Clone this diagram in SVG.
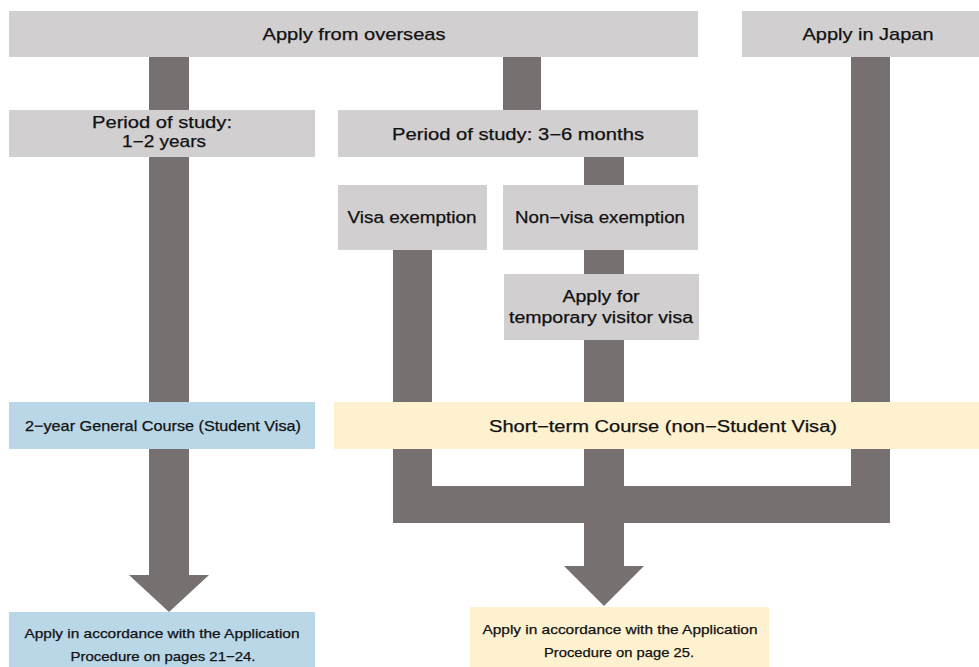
<svg xmlns="http://www.w3.org/2000/svg" width="979" height="667" viewBox="0 0 979 667">
<style>
.bar{fill:#767070}
.gray{fill:#d1cfd0}
.blue{fill:#b9d7e7}
.yellow{fill:#fef1cf}
text{font-family:"Liberation Sans","DejaVu Sans",sans-serif;fill:#111;stroke:#111;stroke-width:0.25;text-anchor:middle}
.t16{font-size:16px}
.t17{font-size:17px}
.t15{font-size:15px}
.t13{font-size:13px}
</style>
<rect width="979" height="667" fill="#ffffff"/>
<g id="connectors">
<rect class="bar" x="149" y="57" width="40" height="520"/>
<polygon class="bar" points="129,575 209,575 169,612"/>
<rect class="bar" x="503" y="57" width="38" height="53"/>
<rect class="bar" x="584" y="157" width="40" height="410"/>
<polygon class="bar" points="564,566 644,566 604,606"/>
<rect class="bar" x="393" y="250" width="39" height="273"/>
<rect class="bar" x="851" y="57" width="39" height="466"/>
<rect class="bar" x="393" y="486" width="497" height="37"/>
</g>
<g id="node-overseas">
<rect class="gray" x="9" y="11" width="689" height="46"/>
<text class="t17" x="354" y="40" textLength="183" lengthAdjust="spacingAndGlyphs">Apply from overseas</text>
</g>
<g id="node-japan">
<rect class="gray" x="742" y="11" width="237" height="46"/>
<text class="t17" x="868" y="40" textLength="131" lengthAdjust="spacingAndGlyphs">Apply in Japan</text>
</g>
<g id="node-period12">
<rect class="gray" x="9" y="110" width="306" height="47"/>
<text class="t16" x="162" y="128" textLength="140" lengthAdjust="spacingAndGlyphs">Period of study:</text>
<text class="t16" x="164" y="147" textLength="84" lengthAdjust="spacingAndGlyphs">1−2 years</text>
</g>
<g id="node-period36">
<rect class="gray" x="338" y="110" width="360" height="47"/>
<text class="t16" x="518" y="140" textLength="252" lengthAdjust="spacingAndGlyphs">Period of study: 3−6 months</text>
</g>
<g id="node-visa">
<rect class="gray" x="338" y="185" width="149" height="65"/>
<text class="t16" x="412" y="223" textLength="129" lengthAdjust="spacingAndGlyphs">Visa exemption</text>
</g>
<g id="node-nonvisa">
<rect class="gray" x="503" y="185" width="195" height="65"/>
<text class="t16" x="600" y="223" textLength="170" lengthAdjust="spacingAndGlyphs">Non−visa exemption</text>
</g>
<g id="node-temp">
<rect class="gray" x="504" y="274" width="195" height="66"/>
<text class="t16" x="601" y="302" textLength="77" lengthAdjust="spacingAndGlyphs">Apply for</text>
<text class="t16" x="601" y="323" textLength="184" lengthAdjust="spacingAndGlyphs">temporary visitor visa</text>
</g>
<g id="node-general">
<rect class="blue" x="9" y="402" width="306" height="47"/>
<text class="t15" x="163" y="431" textLength="276" lengthAdjust="spacingAndGlyphs">2−year General Course (Student Visa)</text>
</g>
<g id="node-shortterm">
<rect class="yellow" x="334" y="402" width="645" height="47"/>
<text class="t16" x="663" y="432" textLength="348" lengthAdjust="spacingAndGlyphs">Short−term Course (non−Student Visa)</text>
</g>
<g id="node-proc-general">
<rect class="blue" x="9" y="612" width="306" height="55"/>
<text class="t13" x="162" y="638" textLength="275" lengthAdjust="spacingAndGlyphs">Apply in accordance with the Application</text>
<text class="t13" x="163" y="661" textLength="185" lengthAdjust="spacingAndGlyphs">Procedure on pages 21−24.</text>
</g>
<g id="node-proc-short">
<rect class="yellow" x="470" y="607" width="299" height="60"/>
<text class="t13" x="620" y="634" textLength="275" lengthAdjust="spacingAndGlyphs">Apply in accordance with the Application</text>
<text class="t13" x="619" y="657" textLength="150" lengthAdjust="spacingAndGlyphs">Procedure on page 25.</text>
</g>
</svg>
